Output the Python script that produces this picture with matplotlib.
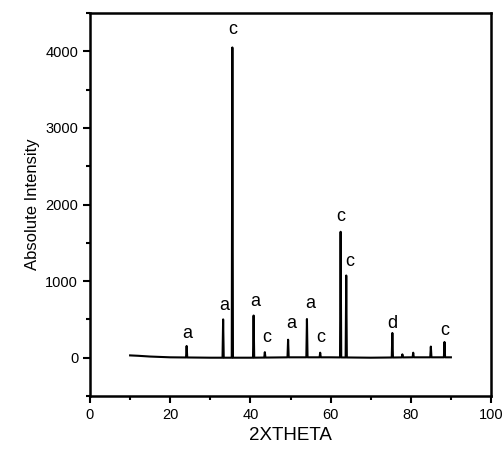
import matplotlib
matplotlib.use("Agg")
import matplotlib.pyplot as plt
import numpy as np
from matplotlib.ticker import MultipleLocator

plt.rcParams['font.family'] = ['Liberation Sans', 'DejaVu Sans']

# Picos do difratograma (posicao 2theta, intensidade)
peak_pos = [24.1, 33.2, 35.5, 40.8, 43.6, 49.4, 54.1, 57.4, 62.5, 63.9,
            75.4, 77.9, 80.6, 85.0, 88.4]
peak_int = [150, 500, 4050, 550, 70, 230, 500, 60, 1640, 1070,
            320, 40, 60, 140, 200]

# Linha de base
base_x = [10, 12, 15, 20, 30, 40, 50, 60, 70, 80, 90]
base_y = [30, 25, 15, 5, 0, 0, 5, 5, 0, 5, 5]

# Rotulos das fases
lab_x = [24.2, 33.6, 35.6, 41.3, 44.1, 50.3, 54.9, 57.6, 62.6, 64.8, 75.3, 88.5]
lab_y = [310, 680, 4290, 740, 260, 450, 710, 270, 1840, 1260, 450, 350]
lab_t = ['a', 'a', 'c', 'a', 'c', 'a', 'a', 'c', 'c', 'c', 'd', 'c']

# Monta o perfil de linhas (pico = base, topo, base)
xs = list(base_x)
ys = list(base_y)
w = 0.15
for p, h in zip(peak_pos, peak_int):
    b = np.interp(p, base_x, base_y)
    xs += [p - w, p, p + w]
    ys += [b, b + h, b]
order = np.argsort(xs, kind="stable")
xs = np.array(xs)[order]
ys = np.array(ys)[order]

fig = plt.figure(figsize=(5.04, 4.57), dpi=100)
ax = fig.add_axes([90/504, 1-396/457, 401/504, 383/457])
ax.plot(xs, ys, color="black", lw=1.5)

for x, y, t in zip(lab_x, lab_y, lab_t):
    ax.text(x, y, t, ha="center", va="center", fontsize=13)

ax.set_xlim(0, 100)
ax.set_ylim(-500, 4500)
ax.xaxis.set_major_locator(MultipleLocator(20))
ax.xaxis.set_minor_locator(MultipleLocator(10))
ax.yaxis.set_major_locator(MultipleLocator(1000))
ax.yaxis.set_minor_locator(MultipleLocator(500))
ax.tick_params(which="both", direction="out", width=1.5, labelsize=10.5)
ax.tick_params(which="major", length=5)
ax.tick_params(which="minor", length=3)
for s in ax.spines.values():
    s.set_linewidth(1.8)

ax.set_xlabel("2XTHETA", fontsize=13.5)
ax.set_ylabel("Absolute Intensity", fontsize=12)

fig.savefig("out.png", dpi=100, facecolor="white")
